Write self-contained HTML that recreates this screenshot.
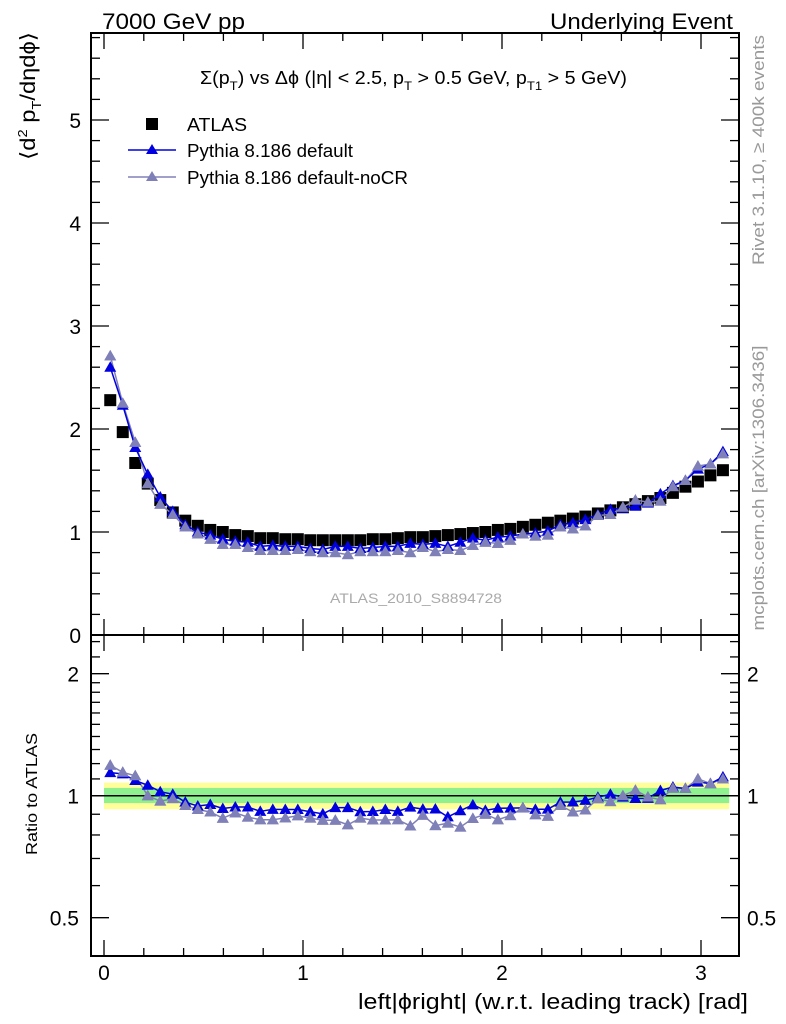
<!DOCTYPE html>
<html><head><meta charset="utf-8"><style>
html,body{margin:0;padding:0;background:#fff;}
svg{display:block;font-family:"Liberation Sans",sans-serif;}
</style></head><body>
<svg id="chart" width="786" height="1024" viewBox="0 0 786 1024" xmlns="http://www.w3.org/2000/svg">
<rect width="786" height="1024" fill="#fff"/>
<text x="102" y="29" font-size="22" textLength="143" lengthAdjust="spacingAndGlyphs">7000 GeV pp</text>
<text x="550" y="29" font-size="22" textLength="183" lengthAdjust="spacingAndGlyphs">Underlying Event</text>
<text x="200" y="84" font-size="18" textLength="427" lengthAdjust="spacingAndGlyphs">Σ(p<tspan dy="6" font-size="12">T</tspan><tspan dy="-6">) vs Δϕ (|η| &lt; 2.5, p</tspan><tspan dy="6" font-size="12">T</tspan><tspan dy="-6"> &gt; 0.5 GeV, p</tspan><tspan dy="6" font-size="12">T1</tspan><tspan dy="-6"> &gt; 5 GeV)</tspan></text>
<text transform="translate(35,96) rotate(-90)" font-size="21" text-anchor="middle" textLength="128" lengthAdjust="spacingAndGlyphs">⟨d<tspan dy="-8" font-size="13">2</tspan><tspan dy="8"> p</tspan><tspan dy="6" font-size="13">T</tspan><tspan dy="-6">/dηdϕ⟩</tspan></text>
<text transform="translate(764,150) rotate(-90)" font-size="17" fill="#999" text-anchor="middle" textLength="230" lengthAdjust="spacingAndGlyphs">Rivet 3.1.10, ≥ 400k events</text>
<text transform="translate(764,488) rotate(-90)" font-size="17" fill="#999" text-anchor="middle" textLength="285" lengthAdjust="spacingAndGlyphs">mcplots.cern.ch [arXiv:1306.3436]</text>
<text x="330" y="603" font-size="14" fill="#aaa" textLength="172" lengthAdjust="spacingAndGlyphs">ATLAS_2010_S8894728</text>
<text transform="translate(37,794) rotate(-90)" font-size="16" text-anchor="middle" textLength="122" lengthAdjust="spacingAndGlyphs">Ratio to ATLAS</text>
<text x="358" y="1009" font-size="22" textLength="390" lengthAdjust="spacingAndGlyphs">left|ϕright| (w.r.t. leading track) [rad]</text>
<g id="g-main"></g>
<g id="g-ratio"></g>
<g>
<rect x="146" y="118" width="12" height="12" fill="#000"/>
<text x="187" y="131" font-size="18" textLength="60" lengthAdjust="spacingAndGlyphs">ATLAS</text>
<line x1="128" y1="150" x2="176" y2="150" stroke="#0000e0" stroke-width="1.5"/>
<polygon points="152,144 158,154 146,154" fill="#0000e0"/>
<text x="187" y="157" font-size="18" textLength="166" lengthAdjust="spacingAndGlyphs">Pythia 8.186 default</text>
<line x1="128" y1="177" x2="176" y2="177" stroke="#8080b8" stroke-width="1.5"/>
<polygon points="152,171 158,181 146,181" fill="#8080b8"/>
<text x="187" y="184" font-size="18" textLength="221" lengthAdjust="spacingAndGlyphs">Pythia 8.186 default-noCR</text>
</g>
</svg>
<script>
const atlas = [2.28,1.97,1.67,1.47,1.31,1.19,1.11,1.06,1.02,1.00, 0.97,0.96,0.94,0.94,0.93,0.93,0.92,0.92,0.92,0.92, 0.92,0.93,0.93,0.94,0.95,0.95,0.96,0.97,0.98,0.99, 1.00,1.02,1.03,1.05,1.07,1.09,1.11,1.13,1.15,1.18, 1.21,1.24,1.27,1.30,1.33,1.38,1.44,1.49,1.55,1.60];
const pythiaDefault = [2.60,2.23,1.82,1.56,1.34,1.20,1.07,1.00,0.97,0.93, 0.91,0.90,0.86,0.87,0.86,0.86,0.84,0.83,0.86,0.86, 0.84,0.85,0.86,0.86,0.89,0.88,0.89,0.86,0.90,0.94, 0.92,0.95,0.96,0.98,0.99,1.01,1.07,1.09,1.12,1.17, 1.22,1.23,1.25,1.28,1.37,1.45,1.50,1.61,1.66,1.78];
const pythiaNoCR = [2.71,2.25,1.87,1.47,1.27,1.17,1.05,0.98,0.93,0.88, 0.88,0.85,0.82,0.82,0.82,0.83,0.81,0.80,0.80,0.78, 0.81,0.81,0.81,0.82,0.80,0.85,0.81,0.83,0.82,0.87, 0.90,0.89,0.92,0.98,0.96,0.97,1.05,1.03,1.06,1.16, 1.17,1.24,1.31,1.29,1.30,1.44,1.50,1.64,1.66,1.76];
const bandYellow = [0.926,1.077];
const bandGreen = [0.959,1.045];
const mainTicks = [0,1,2,3,4,5];
const ratioTicks = [0.5,1,2];
const xTicks = [0,1,2,3];
const NB = atlas.length;
const NS='http://www.w3.org/2000/svg';
const L=91,R=739,MT=33,MB=635,RB=956;
function xs(v){return 104+v*199;}
function ym(v){return 635-v*103;}
function yr(v){return 795.7-Math.log2(v)*122;}
function binC(i){return (i+0.5)*Math.PI/NB;}
function mk(p,tag,a){const e=document.createElementNS(NS,tag);for(const k in a)e.setAttribute(k,a[k]);p.appendChild(e);return e;}
const gm=document.getElementById('g-main'), gr=document.getElementById('g-ratio');
let e=mk(gr,'rect',{x:xs(0),y:yr(bandYellow[1]),width:xs(Math.PI)-xs(0),height:yr(bandYellow[0])-yr(bandYellow[1]),fill:'#ffff99'});


e=mk(gr,'rect',{x:xs(0),y:yr(bandGreen[1]),width:xs(Math.PI)-xs(0),height:yr(bandGreen[0])-yr(bandGreen[1]),fill:'#8ef08e'});


e=mk(gr,'line',{x1:L,x2:R,y1:yr(1),y2:yr(1),stroke:'#000','stroke-width':1.5});


for(const [g,t,b] of [[gm,MT,MB],[gr,MB,RB]]){
  e=mk(g,'rect',{x:L,y:t,width:R-L,height:b-t,fill:'none',stroke:'#000','stroke-width':2});
  
  
  for(let k=0;k<=16;k++){const v=k*0.2;if(xs(v)>R)break;const maj=Math.abs(v-Math.round(v))<1e-6;const len=maj?16:8;
    mk(g,'line',{x1:xs(v),x2:xs(v),y1:b,y2:b-len,stroke:'#000','stroke-width':1.3});
    mk(g,'line',{x1:xs(v),x2:xs(v),y1:t,y2:t+len,stroke:'#000','stroke-width':1.3});}
}
for(let k=0;k<=29;k++){const v=k*0.2;const y=ym(v);if(y<MT)break;const maj=k%5==0;const len=maj?18:9;
  mk(gm,'line',{x1:L,x2:L+len,y1:y,y2:y,stroke:'#000','stroke-width':1.3});
  mk(gm,'line',{x1:R,x2:R-len,y1:y,y2:y,stroke:'#000','stroke-width':1.3});}
mainTicks.forEach(v=>{const t=mk(gm,'text',{x:81,y:ym(v)+8,'font-size':21,'text-anchor':'end'});t.textContent=v;
  
  });
const rminor=[0.4,0.5,0.6,0.7,0.8,0.9,1,1.1,1.2,1.3,1.4,1.5,1.6,1.7,1.8,1.9,2,2.2,2.4];
rminor.forEach(v=>{const y=yr(v);if(y<MB||y>RB)return;const maj=ratioTicks.includes(v);const len=maj?18:9;
  mk(gr,'line',{x1:L,x2:L+len,y1:y,y2:y,stroke:'#000','stroke-width':1.3});
  mk(gr,'line',{x1:R,x2:R-len,y1:y,y2:y,stroke:'#000','stroke-width':1.3});});
ratioTicks.forEach(v=>{let t=mk(gr,'text',{x:79,y:yr(v)+8,'font-size':21,'text-anchor':'end'});t.textContent=v;
  
  
  t=mk(gr,'text',{x:747,y:yr(v)+8,'font-size':21});t.textContent=v;
  
  });
xTicks.forEach(v=>{const t=mk(gr,'text',{x:xs(v),y:980,'font-size':21,'text-anchor':'middle'});t.textContent=v;
  
  });
function tri(g,x,y,c,name){const p=mk(g,'polygon',{points:`${x},${y-6} ${x+6},${y+4.5} ${x-6},${y+4.5}`,fill:c});
  
  }
function drawModel(vals,c,name){
  const pm=vals.map((v,i)=>xs(binC(i))+','+ym(v)).join(' ');
  let l=mk(gm,'polyline',{points:pm,fill:'none',stroke:c,'stroke-width':1.5});
  
  
  const pr=vals.map((v,i)=>xs(binC(i))+','+yr(v/atlas[i])).join(' ');
  l=mk(gr,'polyline',{points:pr,fill:'none',stroke:c,'stroke-width':1.5});
  
  
  vals.forEach((v,i)=>{tri(gm,xs(binC(i)),ym(v),c,name+'-point');tri(gr,xs(binC(i)),yr(v/atlas[i]),c,name+'-ratio-point');});
}
atlas.forEach((v,i)=>{const r=mk(gm,'rect',{x:xs(binC(i))-6,y:ym(v)-6,width:12,height:12,fill:'#000'});
  
  });
drawModel(pythiaNoCR,'#8080b8','pythia-nocr');
drawModel(pythiaDefault,'#0000e0','pythia-default');
pythiaNoCR.forEach((v,i)=>{tri(gm,xs(binC(i)),ym(v),'#8080b8','pythia-nocr-point');tri(gr,xs(binC(i)),yr(v/atlas[i]),'#8080b8','pythia-nocr-ratio-point');});
</script>
</body></html>
